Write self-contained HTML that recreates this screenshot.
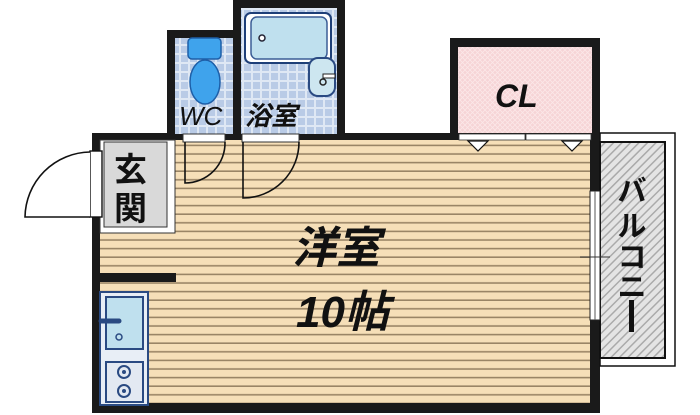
<!DOCTYPE html>
<html><head><meta charset="utf-8"><style>
html,body{margin:0;padding:0;background:#fff;width:700px;height:415px;overflow:hidden}
svg{display:block}
text{font-family:"Liberation Sans","Noto Sans CJK JP",sans-serif;font-style:italic}
</style></head><body>
<svg width="700" height="415" viewBox="0 0 700 415" xmlns="http://www.w3.org/2000/svg">
<defs>
<pattern id="fl" width="10" height="8.6" patternUnits="userSpaceOnUse">
<rect width="10" height="8.6" fill="#f6dfb8"/><rect y="7" width="10" height="1.6" fill="#9a8566"/>
</pattern>
<pattern id="tile" width="9" height="9" patternUnits="userSpaceOnUse">
<rect width="9" height="9" fill="#dfe8f4"/><rect width="7" height="7" x="1" y="1" fill="#b9cbe6"/>
</pattern>
<pattern id="pink" width="5" height="5" patternUnits="userSpaceOnUse">
<rect width="5" height="5" fill="#f6d4d6"/><path d="M0 5L5 0M0 0L5 5" stroke="#fbe8e8" stroke-width="0.8"/>
</pattern>
<pattern id="gray" width="6" height="6" patternUnits="userSpaceOnUse" patternTransform="rotate(45)">
<rect width="6" height="6" fill="#e4e4e4"/><rect width="1.5" height="6" fill="#aaa"/>
</pattern>
</defs>
<rect x="92" y="133" width="508" height="280" fill="#1a1a1a"/>
<rect x="100" y="140" width="490" height="263" fill="url(#fl)"/>
<rect x="233" y="0" width="112" height="140" fill="#1a1a1a"/>
<rect x="241" y="8" width="96" height="126" fill="url(#tile)"/>
<rect x="245" y="13" width="86" height="50" rx="6" fill="#fff" stroke="#1e3f78" stroke-width="2"/>
<rect x="251" y="17" width="76" height="42" rx="6" fill="#bfe0ee" stroke="#3b5d95" stroke-width="1.5"/>
<circle cx="262" cy="38" r="3" fill="#fff" stroke="#223" stroke-width="1.5"/>
<rect x="309" y="58" width="26" height="38" rx="9" fill="#cde6f0" stroke="#2a4a82" stroke-width="2"/>
<circle cx="323" cy="82" r="3" fill="none" stroke="#222" stroke-width="1.5"/>
<rect x="323" y="74" width="12" height="4" fill="#fff" stroke="#222" stroke-width="1"/>
<rect x="167" y="30" width="70" height="110" fill="#1a1a1a"/>
<rect x="175" y="38" width="58" height="96" fill="url(#tile)"/>
<rect x="188" y="38" width="33" height="21" rx="4" fill="#3fa3ec" stroke="#1e5fa8" stroke-width="1.5"/>
<ellipse cx="205" cy="82" rx="15" ry="22" fill="#3fa3ec" stroke="#1e5fa8" stroke-width="1.5"/>
<text x="179" y="125" font-size="26" fill="#111">WC</text>
<text x="245" y="125" font-size="26" fill="#111" font-weight="bold">浴室</text>
<rect x="183" y="134" width="42" height="8" fill="#fff" stroke="#333" stroke-width="1"/>
<rect x="242" y="134" width="57" height="8" fill="#fff" stroke="#333" stroke-width="1"/>
<path d="M185 142V183 A40 40 0 0 0 225 142" fill="none" stroke="#111" stroke-width="1.6"/>
<path d="M243 142V198 A56 56 0 0 0 299 142" fill="none" stroke="#111" stroke-width="1.6"/>
<rect x="100" y="140" width="75" height="93" fill="#fff" stroke="#333" stroke-width="1"/>
<rect x="104" y="142" width="63" height="85" fill="#d9d9d9" stroke="#333" stroke-width="1"/>
<text x="114" y="181" font-size="33" font-weight="bold" style="font-style:normal" fill="#111">玄</text>
<text x="114" y="220" font-size="33" font-weight="bold" style="font-style:normal" fill="#111">関</text>
<rect x="90" y="151" width="12" height="66" fill="#fff" stroke="#111" stroke-width="1.4"/>
<path d="M90 152A66 66 0 0 0 25 217H90" fill="#fff" stroke="#111" stroke-width="1.6"/>
<rect x="100" y="273" width="76" height="9" fill="#1a1a1a"/>
<rect x="100" y="292" width="48" height="113" fill="#e8eef6" stroke="#2a4a82" stroke-width="2"/>
<rect x="106" y="297" width="37" height="52" fill="#bfe0ee" stroke="#2a4a82" stroke-width="2"/>
<path d="M101 321H119" stroke="#2a4a82" stroke-width="5" stroke-linecap="round"/>
<circle cx="119" cy="337" r="3" fill="none" stroke="#2a4a82" stroke-width="1.5"/>
<rect x="106" y="362" width="37" height="40" fill="#e3e9f2" stroke="#2a4a82" stroke-width="2"/>
<circle cx="124" cy="372" r="6" fill="none" stroke="#2a4a82" stroke-width="2"/><circle cx="124" cy="372" r="2" fill="#2a4a82"/>
<circle cx="124" cy="391" r="6" fill="none" stroke="#2a4a82" stroke-width="2"/><circle cx="124" cy="391" r="2" fill="#2a4a82"/>
<rect x="450" y="38" width="150" height="102" fill="#1a1a1a"/>
<rect x="458" y="47" width="134" height="86" fill="url(#pink)"/>
<text x="495" y="107" font-size="32" fill="#111" font-weight="bold">CL</text>
<rect x="459" y="134" width="66" height="6" fill="#fff" stroke="#333" stroke-width="0.8"/>
<rect x="526" y="134" width="65" height="6" fill="#fff" stroke="#333" stroke-width="0.8"/>
<path d="M468 141L478 151L488 141Z M562 141L572 151L582 141Z" fill="#fff" stroke="#111" stroke-width="1.2"/>
<rect x="600" y="133" width="75" height="233" fill="#fff" stroke="#111" stroke-width="1.5"/>
<rect x="600" y="142" width="65" height="216" fill="url(#gray)" stroke="#111" stroke-width="2"/>
<rect x="590" y="191" width="10" height="129" fill="#fff" stroke="#222" stroke-width="1"/>
<line x1="595" y1="191" x2="595" y2="320" stroke="#555" stroke-width="1"/>
<line x1="580" y1="257" x2="610" y2="257" stroke="#333" stroke-width="1"/>
<g font-size="29" fill="#111" text-anchor="middle" font-weight="bold">
<text x="632" y="201" style="font-style:normal">バ</text>
<text x="632" y="236" style="font-style:normal">ル</text>
<text x="632" y="267" style="font-style:normal">コ</text>
<text x="632" y="297" style="font-style:normal">ニ</text>
</g>
<rect x="629" y="300" width="5" height="32" fill="#111"/>
<text x="292" y="263" font-size="44" fill="#111" font-weight="bold">洋室</text>
<text x="296" y="327" font-size="44" fill="#111" font-weight="bold">10帖</text>
</svg>
</body></html>
